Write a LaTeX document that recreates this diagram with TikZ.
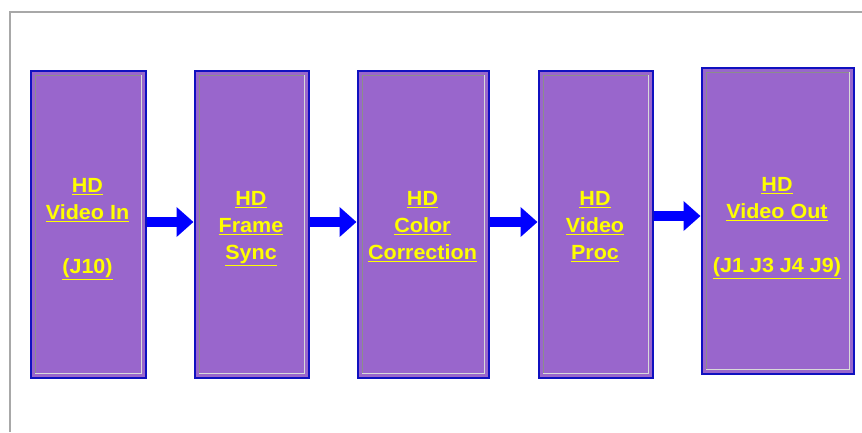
\documentclass[tikz,border=0pt]{standalone}
\usepackage{fontspec}
\setmainfont[FakeStretch=1.05]{Liberation Sans}
\usetikzlibrary{arrows.meta}
\definecolor{boxfill}{HTML}{9966CC}
\definecolor{boxedge}{HTML}{1010C0}
\definecolor{txt}{HTML}{FFFF00}
\definecolor{frameg}{HTML}{A8A8A8}
\newcommand{\ul}[1]{\vtop{\hbox{#1}\kern1.6pt\hrule height 1.6pt}}
\tikzset{
  blk/.style={draw=boxedge, line width=1.5pt, fill=boxfill, anchor=north west, inner sep=0pt},
  lbl/.style={text=txt, font=\bfseries\fontsize{20.5}{27}\selectfont, align=center, anchor=base, inner sep=0pt},
  flow/.style={draw=blue, line width=10pt, -{Triangle[length=17pt,width=29pt]}, shorten >=0.5pt},
}
\newcommand{\bevel}[1]{%
  \draw[gray!90, line width=1pt] ([xshift=5pt,yshift=5pt]#1.south west) -- ([xshift=5pt,yshift=-5pt]#1.north west) -- ([xshift=-5pt,yshift=-5pt]#1.north east);
  \draw[gray!30, line width=1pt] ([xshift=-5pt,yshift=-5pt]#1.north east) -- ([xshift=-5pt,yshift=5pt]#1.south east) -- ([xshift=5pt,yshift=5pt]#1.south west);
}
\begin{document}
\begin{tikzpicture}[x=1pt,y=-1pt]
\useasboundingbox (0,0) rectangle (862,432);
\fill[white] (0,0) rectangle (862,432);
\draw[frameg, line width=2pt] (9.5,432) -- (9.5,11.5) -- (862,11.5);
% boxes
\node[blk, minimum width=115pt, minimum height=307pt] (b1) at (30,70) {};
\node[blk, minimum width=114pt, minimum height=307pt] (b2) at (194,70) {};
\node[blk, minimum width=131pt, minimum height=307pt] (b3) at (357,70) {};
\node[blk, minimum width=114pt, minimum height=307pt] (b4) at (538,70) {};
\node[blk, minimum width=152pt, minimum height=306pt] (b5) at (701,67) {};
\bevel{b1}\bevel{b2}\bevel{b3}\bevel{b4}\bevel{b5}
% labels (anchored at the baseline of the last line)
\node[lbl] (t1) at (87.5,273) {\ul{HD}\\\ul{Video In}\\\mbox{}\\\ul{(J10)}};
\node[lbl] (t2) at (251,259) {\ul{HD}\\\ul{Frame}\\\ul{Sync}};
\node[lbl] (t3) at (422.5,259) {\ul{HD}\\\ul{Color}\\\ul{Correction}};
\node[lbl] (t4) at (595,259) {\ul{HD}\\\ul{Video}\\\ul{Proc}};
\node[lbl] (t5) at (777,272) {\ul{HD}\\\ul{Video Out}\\\mbox{}\\\ul{(J1 J3 J4 J9)}};
% arrows
\draw[flow] (b1.east |- 0,222) -- (b2.west |- 0,222);
\draw[flow] (b2.east |- 0,222) -- (b3.west |- 0,222);
\draw[flow] (b3.east |- 0,222) -- (b4.west |- 0,222);
\draw[flow] (b4.east |- 0,216) -- (b5.west |- 0,216);
\end{tikzpicture}
\end{document}
